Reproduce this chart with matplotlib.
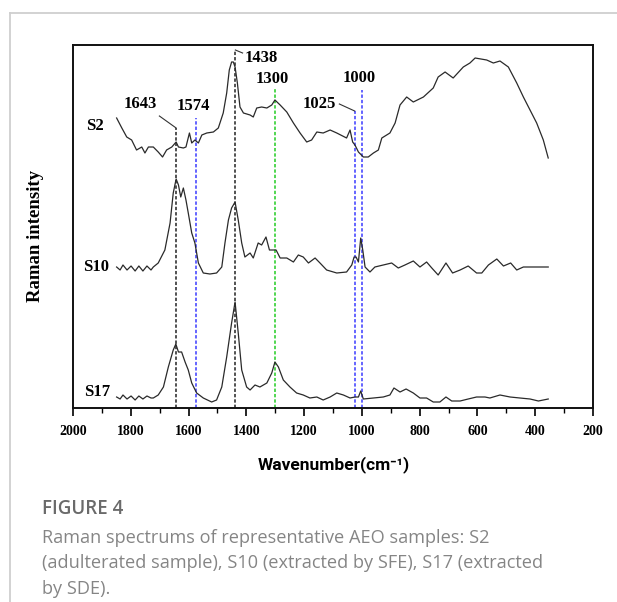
import matplotlib
matplotlib.use("Agg")
import matplotlib.pyplot as plt
from matplotlib.lines import Line2D
from matplotlib.ticker import MultipleLocator

# ---------------- data ----------------
s2_wn = [1849, 1831, 1814, 1797, 1780, 1762, 1751, 1739, 1722, 1705, 1690, 1676, 1658, 1643,
         1635, 1618, 1609, 1597, 1589, 1578, 1566, 1554, 1537, 1514, 1497, 1480, 1468, 1459,
         1451, 1445, 1439, 1431, 1422, 1410, 1387, 1376, 1364, 1347, 1329, 1312, 1301, 1283,
         1260, 1237, 1214, 1191, 1174, 1156, 1134, 1110, 1087, 1053, 1041, 1032, 1024, 1012,
         995, 978, 960, 943, 931, 903, 885, 868, 845, 822, 787, 753, 736, 712, 684, 649, 626,
         608, 568, 545, 522, 493, 464, 441, 418, 395, 372, 355]
s2_int = [290, 280, 271, 268, 258, 261, 255, 261, 261, 256, 251, 258, 261, 266,
          261, 260, 261, 275, 265, 268, 265, 273, 275, 276, 280, 295, 315, 338,
          346, 346, 341, 325, 301, 295, 293, 291, 300, 301, 300, 303, 308, 303,
          296, 285, 275, 266, 268, 276, 275, 278, 275, 270, 278, 266, 263, 256,
          251, 251, 255, 258, 270, 275, 285, 303, 311, 306, 311, 320, 331, 336, 330, 341, 345,
          350, 348, 345, 347, 341, 325, 311, 298, 285, 268, 250]

s10_wn = [1849, 1837, 1827, 1813, 1799, 1785, 1772, 1758, 1744, 1730, 1722, 1705, 1682, 1664,
          1653, 1643, 1635, 1627, 1618, 1609, 1601, 1589, 1578, 1566, 1549, 1526, 1503, 1485,
          1474, 1462, 1451, 1439, 1428, 1416, 1405, 1387, 1376, 1359, 1347, 1332, 1320, 1307,
          1297, 1283, 1260, 1237, 1220, 1203, 1185, 1162, 1145, 1122, 1087, 1053, 1035, 1027,
          1020, 1012, 1004, 997, 989, 972, 955, 926, 897, 874, 851, 822, 799, 776, 758, 736,
          709, 686, 660, 632, 603, 585, 562, 533, 510, 485, 464, 441, 407, 372, 355]
s10_int = [141, 138, 143, 138, 142, 137, 142, 137, 142, 138, 141, 145, 158, 185,
           215, 229, 223, 211, 220, 208, 195, 175, 165, 145, 135, 134, 135, 141,
           165, 188, 200, 206, 188, 165, 151, 155, 150, 165, 163, 171, 158, 158,
           158, 150, 150, 146, 153, 151, 145, 150, 145, 138, 135, 136, 143, 151,
           151, 146, 170, 158, 141, 136, 141, 143, 145, 140, 143, 147, 141, 146, 140, 133,
           145, 135, 138, 142, 135, 135, 143, 149, 142, 145, 138, 141, 141, 141, 141]

s17_wn = [1849, 1837, 1827, 1813, 1799, 1785, 1772, 1758, 1744, 1730, 1722, 1705, 1687, 1670,
          1653, 1644, 1635, 1624, 1612, 1601, 1589, 1572, 1549, 1520, 1503, 1485, 1468, 1451,
          1439, 1428, 1416, 1399, 1387, 1370, 1353, 1329, 1312, 1301, 1289, 1272, 1249, 1226,
          1203, 1180, 1156, 1134, 1110, 1087, 1064, 1041, 1024, 1012, 1004, 995, 960, 926, 903,
          889, 868, 847, 822, 799, 776, 753, 730, 709, 689, 660, 632, 603, 574, 557, 522, 487,
          453, 418, 389, 372, 355]
s17_int = [11, 9, 13, 9, 12, 8, 12, 9, 12, 10, 10, 13, 21, 41,
           58, 64, 56, 56, 46, 38, 25, 15, 10, 6, 8, 21, 51, 85,
           106, 75, 38, 21, 18, 23, 21, 25, 35, 46, 41, 28, 21, 15,
           13, 10, 11, 8, 11, 15, 13, 10, 11, 11, 17, 9, 10, 11, 13,
           20, 16, 19, 15, 10, 10, 6, 6, 11, 7, 7, 9, 11, 11, 10, 13, 11,
           10, 9, 7, 8, 9]

series_names = ["S2", "S10", "S17"]
series_label_pos = [(1924, 282), (1919, 141), (1917, 16)]

# marker lines: wavenumber, colour, top of line, label, label position
peak_wn = [1643, 1574, 1438, 1300, 1025, 1000]
peak_colors = ["#222222", "#3a3aff", "#222222", "#22cc22", "#3a3aff", "#3a3aff"]
peak_top = [280, 290, 358, 320, 297, 318]
peak_labels = ["1643", "1574", "1438", "1300", "1025", "1000"]
peak_label_pos = [(1768, 304), (1585, 302), (1347, 350), (1312, 329), (1148, 304), (1008, 330)]
leaders = [((1701, 292), (1643, 280)), ((1438, 358), (1413, 355)), ((1078, 304), (1025, 297))]

x_ticks = [2000, 1800, 1600, 1400, 1200, 1000, 800, 600, 400, 200]

# ---------------- figure ----------------
W, H = 617, 602
fig = plt.figure(figsize=(W / 100, H / 100), dpi=100)
fig.patch.set_facecolor("white")

# page border
fig.add_artist(Line2D([10 / W, 1.0], [1 - 13 / H, 1 - 13 / H], color="#cfcfcf", lw=1.3))
fig.add_artist(Line2D([10 / W, 10 / W], [1 - 13 / H, 0.0], color="#cfcfcf", lw=1.3))

ax = fig.add_axes([73 / W, 1 - 408 / H, (593 - 73) / W, (408 - 45) / H])
serif = "Liberation Serif"

for xs, ys in [(s2_wn, s2_int), (s10_wn, s10_int), (s17_wn, s17_int)]:
    ax.plot(xs, ys, color="#2a2a2a", lw=0.9, zorder=3)

for wn, c, top in zip(peak_wn, peak_colors, peak_top):
    ax.plot([wn, wn], [0, top], color=c, lw=1.1, ls=(0, (2.2, 1.3)), zorder=2)

for (p0, p1) in leaders:
    ax.plot([p0[0], p1[0]], [p0[1], p1[1]], color="#333333", lw=0.8, zorder=2)

for lab, (x, y) in zip(peak_labels, peak_label_pos):
    ax.text(x, y, lab, fontfamily=serif, fontweight="bold", fontsize=12,
            ha="center", va="center")

for lab, (x, y) in zip(series_names, series_label_pos):
    ax.text(x, y, lab, fontfamily=serif, fontweight="bold", fontsize=12,
            ha="center", va="center")

ax.set_xlim(2000, 200)
ax.set_ylim(0, 363)
ax.set_xticks(x_ticks)
ax.set_xticklabels([str(t) for t in x_ticks], fontfamily=serif, fontweight="bold", fontsize=10)
ax.xaxis.set_minor_locator(MultipleLocator(100))
ax.tick_params(axis="x", which="major", direction="out", length=6, width=1.2, pad=6)
ax.tick_params(axis="x", which="minor", direction="out", length=3.5, width=1.0)
ax.set_yticks([])
for sp in ax.spines.values():
    sp.set_linewidth(1.4)
    sp.set_color("#111111")

fig.text(36 / W, 1 - 236 / H, "Raman intensity", rotation=90, fontfamily=serif,
         fontweight="bold", fontsize=13.5, ha="center", va="center")
fig.text(334 / W, 1 - 465 / H, "Wavenumber(cm\u207b\u00b9)", fontfamily=["Roboto", "DejaVu Sans"],
         fontweight="bold", fontsize=12.5, ha="center", va="center")

# caption
fig.text(42 / W, 1 - 509 / H, "FIGURE 4", fontfamily="Open Sans", fontweight="semibold",
         fontsize=13.5, color="#6a6a6a", ha="left", va="center")
caption = ["Raman spectrums of representative AEO samples: S2",
           "(adulterated sample), S10 (extracted by SFE), S17 (extracted",
           "by SDE)."]
for i, line in enumerate(caption):
    fig.text(42 / W, 1 - (538 + 25.5 * i) / H, line, fontfamily="Open Sans",
             fontsize=13.1, color="#858585", ha="left", va="center")

fig.savefig("out.png", dpi=100, facecolor="white")
